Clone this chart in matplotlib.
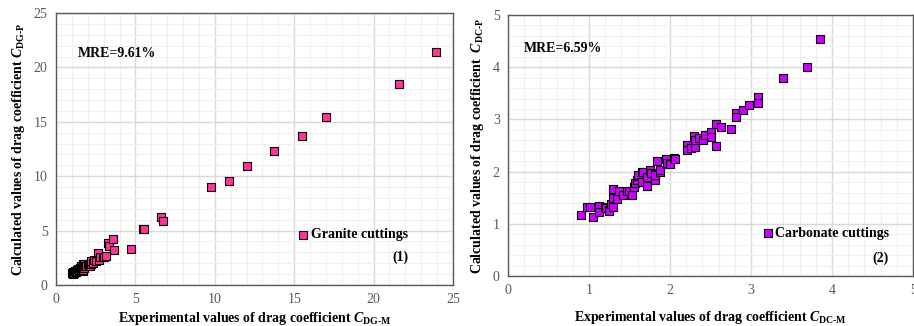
import numpy as np
import matplotlib
matplotlib.use("Agg")
import matplotlib.pyplot as plt
from matplotlib.ticker import MultipleLocator

plt.rcParams['font.family'] = ['Liberation Serif', 'DejaVu Serif']
plt.rcParams['mathtext.fontset'] = 'custom'
plt.rcParams['mathtext.rm'] = 'Liberation Serif:bold'
plt.rcParams['mathtext.it'] = 'Liberation Serif:italic:bold'
plt.rcParams['mathtext.bf'] = 'Liberation Serif:bold'

# granite cuttings: measured vs calculated drag coefficient
granite_x = [1.0, 1.05, 1.1, 1.15, 1.2, 1.25, 1.3, 1.35, 1.4, 1.45, 1.5, 1.55,
             1.6, 1.65, 1.68, 1.7, 1.72, 1.75, 1.78, 1.8, 1.9, 2.0, 2.1, 2.16,
             2.18, 2.2, 2.3, 2.4, 2.5, 2.62, 2.71, 2.8, 2.94, 3.0, 3.15, 3.27,
             3.32, 3.61, 3.67, 4.7, 5.45, 5.57, 6.63, 6.72, 9.76, 10.9, 12.05,
             13.75, 15.5, 17.0, 21.6, 23.9]
granite_y = [1.07, 1.2, 0.98, 1.1, 1.29, 1.15, 1.35, 1.25, 1.5, 1.35, 1.6, 1.45,
             1.7, 1.55, 1.29, 1.9, 1.33, 1.6, 1.9, 1.75, 1.75, 1.95, 1.85, 1.78,
             1.9, 2.2, 2.0, 2.3, 2.2, 2.91, 2.27, 2.55, 2.55, 2.6, 2.7, 3.86,
             3.58, 4.23, 3.22, 3.31, 5.17, 5.17, 6.25, 5.87, 8.98, 9.6, 10.95,
             12.3, 13.7, 15.4, 18.5, 21.4]

# carbonate cuttings
carb_x = [0.90, 0.97, 1.01, 1.05, 1.12, 1.12, 1.20, 1.21, 1.25, 1.25, 1.27,
          1.30, 1.30, 1.30, 1.34, 1.37, 1.42, 1.47, 1.49, 1.53, 1.55, 1.57,
          1.59, 1.60, 1.61, 1.65, 1.66, 1.67, 1.71, 1.72, 1.72, 1.75, 1.77,
          1.81, 1.81, 1.81, 1.84, 1.87, 1.88, 1.95, 1.96, 1.96, 2.00, 2.05,
          2.06, 2.21, 2.21, 2.26, 2.29, 2.31, 2.31, 2.36, 2.41, 2.43, 2.51,
          2.51, 2.57, 2.57, 2.63, 2.75, 2.82, 2.82, 2.90, 2.98, 3.08, 3.08,
          3.40, 3.69, 3.85]
carb_y = [1.17, 1.32, 1.33, 1.14, 1.34, 1.23, 1.32, 1.31, 1.26, 1.25, 1.39,
          1.49, 1.66, 1.33, 1.47, 1.63, 1.55, 1.63, 1.63, 1.55, 1.71, 1.78,
          1.85, 1.92, 1.93, 1.81, 2.00, 1.99, 1.90, 1.72, 1.73, 2.03, 1.97,
          1.84, 1.95, 1.93, 2.21, 2.00, 2.04, 2.25, 2.15, 2.17, 2.14, 2.27,
          2.25, 2.51, 2.41, 2.46, 2.69, 2.48, 2.60, 2.64, 2.61, 2.71, 2.76,
          2.67, 2.91, 2.50, 2.86, 2.82, 3.12, 3.04, 3.19, 3.28, 3.43, 3.31,
          3.80, 4.01, 4.54]

fig = plt.figure(figsize=(9.14, 3.26), dpi=100)
ax1 = fig.add_axes([0.0613, 0.126, 0.4343, 0.834])
ax2 = fig.add_axes([0.5558, 0.153, 0.4432, 0.801])


def style(ax, lim, major, minor):
    ax.set_xlim(0, lim)
    ax.set_ylim(0, lim)
    ax.xaxis.set_major_locator(MultipleLocator(major))
    ax.yaxis.set_major_locator(MultipleLocator(major))
    ax.xaxis.set_minor_locator(MultipleLocator(minor))
    ax.yaxis.set_minor_locator(MultipleLocator(minor))
    ax.grid(which='major', color='#d9d9d9', lw=1.0)
    ax.grid(which='minor', color='#efefef', lw=0.8)
    ax.set_axisbelow(True)
    ax.tick_params(which='both', length=0, colors='#595959', labelsize=10, pad=6)
    for s in ax.spines.values():
        s.set_color('#595959')
        s.set_linewidth(1.0)


style(ax1, 25, 5, 1)
style(ax2, 5, 1, 0.2)

ax1.scatter(granite_x, granite_y, marker='s', s=30, color='#ff3399',
            edgecolor='black', linewidth=0.8, label='Granite cuttings', zorder=3)
ax2.scatter(carb_x, carb_y, marker='s', s=30, color='#cc00ff',
            edgecolor='black', linewidth=0.8, label='Carbonate cuttings', zorder=3)

fs = 10
ax1.set_xlabel('Experimental values of drag coefficient $C_{\\mathrm{DG\u2010M}}$',
               fontsize=fs, fontweight='bold', labelpad=3)
ax1.set_ylabel('Calculated values of drag coefficient $C_{\\mathrm{DG\u2010P}}$',
               fontsize=fs, fontweight='bold', labelpad=5)
ax2.set_xlabel('Experimental values of drag coefficient $C_{\\mathrm{DC\u2010M}}$',
               fontsize=fs, fontweight='bold', labelpad=8)
ax2.set_ylabel('Calculated values of drag coefficient  $C_{\\mathrm{DC\u2010P}}$',
               fontsize=fs, fontweight='bold', labelpad=5)

ax1.text(0.055, 0.85, 'MRE=9.61%', transform=ax1.transAxes,
         fontsize=fs, fontweight='bold', va='center')
ax2.text(0.04, 0.87, 'MRE=6.59%', transform=ax2.transAxes,
         fontsize=fs, fontweight='bold', va='center')

for ax, anchor in ((ax1, (0.9, 0.184)), (ax2, (0.955, 0.165))):
    ax.legend(loc='center right', bbox_to_anchor=anchor, frameon=False,
              handletextpad=0.05, borderaxespad=0, handlelength=1.0,
              markerscale=1.05, prop={'weight': 'bold', 'size': fs})

ax1.text(0.887, 0.103, '(1)', transform=ax1.transAxes, fontsize=fs,
         fontweight='bold', ha='right', va='center')
ax2.text(0.94, 0.069, '(2)', transform=ax2.transAxes, fontsize=fs,
         fontweight='bold', ha='right', va='center')

fig.savefig('out.png', dpi=100)
